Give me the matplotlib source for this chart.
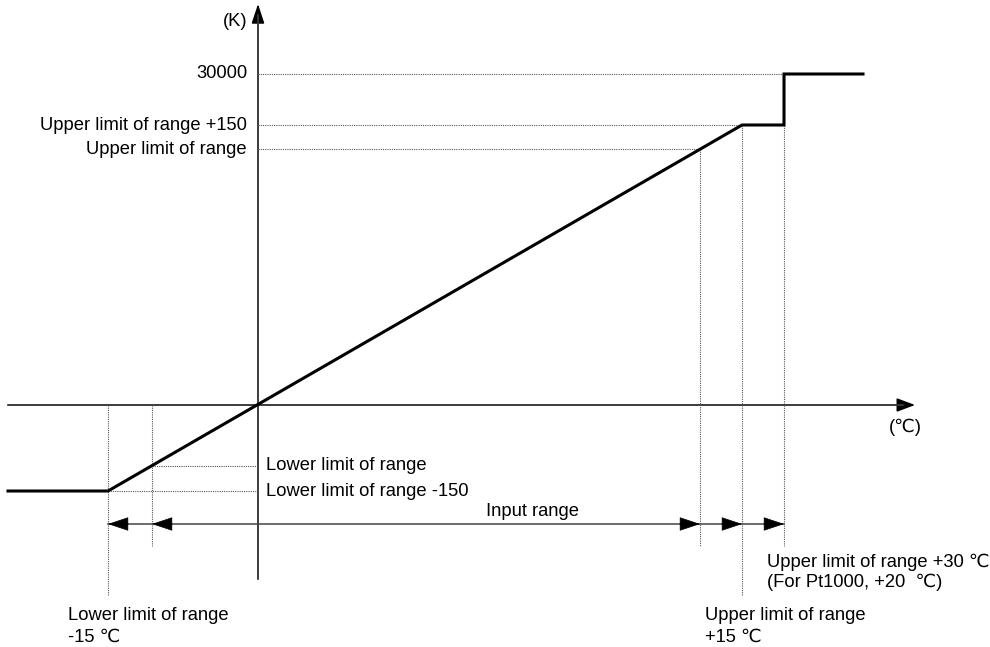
import matplotlib
matplotlib.use("Agg")
import matplotlib.pyplot as plt

plt.rcParams['font.family'] = ['Liberation Sans', 'DejaVu Sans']

# Schematic coordinates (temperature axis / count axis, arbitrary units)
x_start = -250
x_lower15 = -150      # lower limit of range -15 C
x_lower = -106        # lower limit of range
x_upper = 442         # upper limit of range
x_upper15 = 484       # upper limit of range +15 C
x_upper30 = 526       # upper limit of range +30 C
x_end = 605

y_30000 = 331
y_up150 = 280
y_up = 256
y_low = -61
y_low150 = -86

curve_x = [x_start, x_lower15, x_upper15, x_upper30, x_upper30, x_end]
curve_y = [y_low150, y_low150, y_up150, y_up150, y_30000, y_30000]

left_labels = ["30000", "Upper limit of range +150", "Upper limit of range"]
left_label_y = [y_30000, y_up150, y_up]

fig = plt.figure(figsize=(9.9, 6.47), dpi=100)
ax = fig.add_axes([0, 0, 1, 1])
ax.set_xlim(-258, 732)
ax.set_ylim(-242, 405)
ax.axis('off')

axcol = '#444444'
dot = dict(color='#555555', lw=0.8, linestyle=(0, (1, 1)))
fs = 13.2

# axes with arrows
ax.annotate('', xy=(657, 0), xytext=(-250, 0),
            arrowprops=dict(arrowstyle='-|>,head_length=0.8,head_width=0.3', mutation_scale=14,
                            color='black', lw=1.1, shrinkA=0, shrinkB=0), zorder=2)
ax.plot([-250, 645], [0, 0], color=axcol, lw=1.1, zorder=2)
ax.annotate('', xy=(0, 401), xytext=(0, -174),
            arrowprops=dict(arrowstyle='-|>,head_length=0.85,head_width=0.28', mutation_scale=14,
                            color='black', lw=1.1, shrinkA=0, shrinkB=0), zorder=2)
ax.plot([0, 0], [-174, 390], color=axcol, lw=1.1, zorder=2)

# horizontal dotted guides
ax.plot([0, x_upper30], [y_30000, y_30000], **dot)
ax.plot([0, x_upper15], [y_up150, y_up150], **dot)
ax.plot([0, x_upper], [y_up, y_up], **dot)
ax.plot([x_lower, 0], [y_low, y_low], **dot)
ax.plot([x_lower15, 0], [y_low150, y_low150], **dot)

# vertical dotted guides
y_arrow = -119
ax.plot([x_lower15, x_lower15], [0, -190], **dot)
ax.plot([x_lower, x_lower], [0, -141], **dot)
ax.plot([x_upper, x_upper], [y_up, -141], **dot)
ax.plot([x_upper15, x_upper15], [y_up150, -190], **dot)
ax.plot([x_upper30, x_upper30], [y_30000, -141], **dot)

# main characteristic
ax.plot(curve_x, curve_y, color='black', lw=2.2, solid_joinstyle='miter', zorder=3)

# input range arrow row
ax.plot([x_lower15, x_upper30], [y_arrow, y_arrow], color=axcol, lw=1.1)
ahead = dict(arrowstyle='-|>,head_length=0.75,head_width=0.25', mutation_scale=18,
             color='black', lw=0.5, shrinkA=0, shrinkB=0)
for tip in [x_lower15, x_lower]:
    ax.annotate('', xy=(tip, y_arrow), xytext=(tip + 20, y_arrow), arrowprops=ahead)
for tip in [x_upper, x_upper15, x_upper30]:
    ax.annotate('', xy=(tip, y_arrow), xytext=(tip - 20, y_arrow), arrowprops=ahead)

# texts
ax.text(-11, 383, "(K)", ha='right', va='center', fontsize=fs)
for lab, yy in zip(left_labels, left_label_y):
    ax.text(-11, yy, lab, ha='right', va='center', fontsize=fs)
ax.text(8, y_low, "Lower limit of range", ha='left', va='center', fontsize=fs)
ax.text(8, y_low150, "Lower limit of range -150", ha='left', va='center', fontsize=fs)
ax.text(275, -106, "Input range", ha='center', va='center', fontsize=fs)
ax.text(647, -22, "(\u2103)", ha='center', va='center', fontsize=fs)
ax.text(509, -157, "Upper limit of range +30 \u2103", ha='left', va='center', fontsize=fs)
ax.text(509, -177, "(For Pt1000, +20  \u2103)", ha='left', va='center', fontsize=fs)
ax.text(447, -210, "Upper limit of range", ha='left', va='center', fontsize=fs)
ax.text(447, -232, "+15 \u2103", ha='left', va='center', fontsize=fs)
ax.text(-190, -210, "Lower limit of range", ha='left', va='center', fontsize=fs)
ax.text(-190, -232, "-15 \u2103", ha='left', va='center', fontsize=fs)

fig.savefig("out.png", dpi=100, facecolor='white')
